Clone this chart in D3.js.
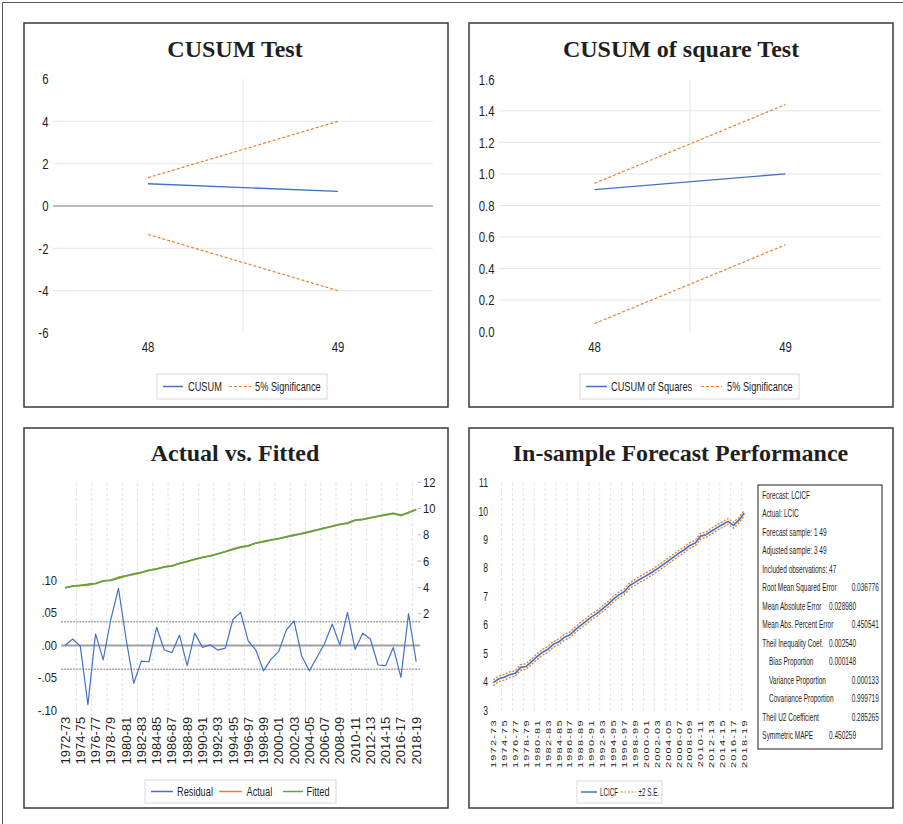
<!DOCTYPE html>
<html><head><meta charset="utf-8">
<script src="https://cdn.jsdelivr.net/npm/d3@7"></script>
<style>body{margin:0;background:#fff}svg{display:block}</style>
</head><body>
<svg id="c" width="903" height="824"></svg>
<script>
// ---------- DATA ----------
const cusumCats = ["48", "49"];
const cusum = [1.05, 0.69];
const cusumUpper = [1.34, 4.0];
const cusumLower = [-1.34, -4.0];
const cusumTicks = [-6, -4, -2, 0, 2, 4, 6];

const cusumsqCats = ["48", "49"];
const cusumsq = [0.90, 1.00];
const cusumsqUpper = [0.94, 1.44];
const cusumsqLower = [0.05, 0.55];
const cusumsqTicks = [0, 0.2, 0.4, 0.6, 0.8, 1.0, 1.2, 1.4, 1.6];

const years = ["1972-73","1973-74","1974-75","1975-76","1976-77","1977-78","1978-79","1979-80","1980-81","1981-82","1982-83","1983-84","1984-85","1985-86","1986-87","1987-88","1988-89","1989-90","1990-91","1991-92","1992-93","1993-94","1994-95","1995-96","1996-97","1997-98","1998-99","1999-00","2000-01","2001-02","2002-03","2003-04","2004-05","2005-06","2006-07","2007-08","2008-09","2009-10","2010-11","2011-12","2012-13","2013-14","2014-15","2015-16","2016-17","2017-18","2018-19"];

const residual = [0.000,0.010,-0.001,-0.091,0.018,-0.022,0.040,0.088,0.010,-0.058,-0.024,-0.025,0.028,-0.007,-0.011,0.016,-0.031,0.019,-0.003,0.001,-0.007,-0.004,0.040,0.051,0.007,-0.007,-0.039,-0.021,-0.009,0.024,0.038,-0.016,-0.039,-0.018,0.003,0.033,0.001,0.051,-0.006,0.019,0.010,-0.030,-0.031,-0.003,-0.049,0.049,-0.025];
const actual = [3.96,4.11,4.15,4.15,4.31,4.48,4.57,4.79,4.89,4.97,5.12,5.29,5.43,5.55,5.63,5.84,5.95,6.15,6.28,6.40,6.55,6.72,6.94,7.10,7.17,7.37,7.46,7.60,7.71,7.86,8.01,8.08,8.20,8.36,8.52,8.67,8.79,8.93,9.11,9.19,9.31,9.39,9.50,9.64,9.45,9.73,9.91];
const fitted = [3.96,4.10,4.15,4.24,4.29,4.50,4.53,4.70,4.88,5.03,5.14,5.31,5.40,5.56,5.64,5.82,5.98,6.13,6.28,6.40,6.56,6.72,6.90,7.05,7.16,7.38,7.50,7.62,7.72,7.84,7.97,8.10,8.24,8.38,8.52,8.64,8.79,8.88,9.12,9.17,9.30,9.42,9.53,9.64,9.50,9.68,9.93];
const residBand = 0.0365;
const residTicks = [-0.10, -0.05, 0, 0.05, 0.10];
const residTickLabels = ["-.10", "-.05", ".00", ".05", ".10"];
const levelTicks = [2, 4, 6, 8, 10, 12];

const lcicf = [3.96,4.10,4.15,4.24,4.29,4.50,4.53,4.70,4.88,5.03,5.14,5.31,5.40,5.56,5.64,5.82,5.98,6.13,6.28,6.40,6.56,6.72,6.90,7.05,7.16,7.38,7.50,7.62,7.72,7.84,7.97,8.10,8.24,8.38,8.52,8.64,8.79,8.88,9.12,9.17,9.30,9.42,9.53,9.64,9.50,9.68,9.93];
const twoSE = 0.10;
const forecastTicks = [3, 4, 5, 6, 7, 8, 9, 10, 11];

const statLabels = ["Forecast: LCICF","Actual: LCIC","Forecast sample: 1 49","Adjusted sample: 3 49","Included observations: 47","Root Mean Squared Error","Mean Absolute Error","Mean Abs. Percent Error","Theil Inequality Coef.","Bias Proportion","Variance Proportion","Covariance Proportion","Theil U2 Coefficient","Symmetric MAPE"];
const statValues = ["","","","","","0.036776","0.028980","0.450541","0.002540","0.000148","0.000133","0.999719","0.285265","0.450259"];
const statIndent = [0,0,0,0,0,0,0,0,0,1,1,1,0,0];
const statValueCol = [0,0,0,0,0,1,0,1,0,0,1,1,1,0];

// ---------- HELPERS ----------
const svg = d3.select("#c");
const SANS = "'Liberation Sans', Arial, sans-serif";
const SERIF = "'Liberation Serif', 'Times New Roman', serif";
const BLUE = "#4472C4", ORANGE = "#ED7D31", GREEN = "#5FA641";
const INK = "#1f1f1f";

function txt(g, x, y, s, o = {}) {
  const t = g.append("text")
    .attr("transform", `translate(${x},${y}) scale(${o.sx || 1},1)` + (o.rot ? ` rotate(${o.rot})` : ""))
    .attr("text-anchor", o.anchor || "start")
    .attr("dy", o.dy == null ? "0.35em" : o.dy)
    .attr("font-family", o.family || SANS)
    .attr("font-size", o.size || 12)
    .attr("fill", o.fill || INK)
    .text(s);
  if (o.weight) t.attr("font-weight", o.weight);
  if (o.ls) t.attr("letter-spacing", o.ls);
  return t;
}
function hline(g, x1, x2, y, stroke, w, dash) {
  const l = g.append("line").attr("x1", x1).attr("x2", x2).attr("y1", y).attr("y2", y)
    .attr("stroke", stroke).attr("stroke-width", w);
  if (dash) l.attr("stroke-dasharray", dash);
  return l;
}
function vline(g, x, y1, y2, stroke, w, dash) {
  const l = g.append("line").attr("x1", x).attr("x2", x).attr("y1", y1).attr("y2", y2)
    .attr("stroke", stroke).attr("stroke-width", w);
  if (dash) l.attr("stroke-dasharray", dash);
  return l;
}
function panel(x, y, w, h) {
  const g = svg.append("g");
  g.append("rect").attr("x", x).attr("y", y).attr("width", w).attr("height", h)
    .attr("fill", "#fff").attr("stroke", "#3a3a3a").attr("stroke-width", 1.5);
  return g;
}
function legend(g, box, items, size, sx) {
  g.append("rect").attr("x", box[0]).attr("y", box[1]).attr("width", box[2] - box[0]).attr("height", box[3] - box[1])
    .attr("fill", "#fff").attr("stroke", "#d9d9d9").attr("stroke-width", 1);
  const cy = (box[1] + box[3]) / 2;
  items.forEach(it => {
    hline(g, it.x1, it.x2, cy, it.color, it.w || 1.5, it.dash);
    txt(g, it.tx, cy, it.label, { size, sx });
  });
}
function drawPath(g, data, x, y, stroke, w, dash) {
  const p = g.append("path").datum(data)
    .attr("d", d3.line().x(d => x(d[0])).y(d => y(d[1])))
    .attr("fill", "none").attr("stroke", stroke).attr("stroke-width", w)
    .attr("stroke-linejoin", "round");
  if (dash) p.attr("stroke-dasharray", dash);
  return p;
}

// outer frame
svg.append("path").attr("d", "M2.5,824 V2.5 H903").attr("fill", "none").attr("stroke", "#555").attr("stroke-width", 1);

// ---------- PANEL 1: CUSUM ----------
{
  const g = panel(24, 23, 424, 384);
  txt(g, 235, 57, "CUSUM Test", { family: SERIF, size: 24, weight: "bold", anchor: "middle", dy: 0 });
  const x = d3.scaleBand().domain(cusumCats).range([53, 433]);
  const cx = c => x(c) + x.bandwidth() / 2;
  const y = d3.scaleLinear().domain([-6, 6]).range([333, 79]);
  cusumTicks.filter(d => d !== 0 && Math.abs(d) !== 6).forEach(d => hline(g, 53, 433, y(d), "#e6e6e6", 1));
  vline(g, x(cusumCats[1]), y(6), y(-6), "#e6e6e6", 1);
  hline(g, 53, 433, y(0), "#a6a6a6", 1.3);
  cusumTicks.forEach(d => txt(g, 48.5, y(d), String(d), { anchor: "end", size: 15, sx: 0.76 }));
  cusumCats.forEach(c => txt(g, cx(c), 347, c, { anchor: "middle", size: 15, sx: 0.76 }));
  const z = (arr) => cusumCats.map((c, i) => [c, arr[i]]);
  drawPath(g, z(cusumUpper), cx, y, ORANGE, 1.2, "3,2");
  drawPath(g, z(cusumLower), cx, y, ORANGE, 1.2, "3,2");
  drawPath(g, z(cusum), cx, y, BLUE, 1.4);
  legend(g, [157, 374, 327, 399], [
    { x1: 163, x2: 183, color: BLUE, tx: 188, label: "CUSUM" },
    { x1: 229, x2: 251, color: ORANGE, dash: "3,2", w: 1.2, tx: 255, label: "5% Significance" }
  ], 12.5, 0.74);
}

// ---------- PANEL 2: CUSUM of squares ----------
{
  const g = panel(469, 23, 424, 384);
  txt(g, 681, 57, "CUSUM of square Test", { family: SERIF, size: 24, weight: "bold", anchor: "middle", dy: 0 });
  const x = d3.scaleBand().domain(cusumsqCats).range([499, 881]);
  const cx = c => x(c) + x.bandwidth() / 2;
  const y = d3.scaleLinear().domain([0, 1.6]).range([331.5, 79.3]);
  cusumsqTicks.filter(d => d > 0 && d < 1.6).forEach(d => hline(g, 499, 881, y(d), "#e6e6e6", 1));
  vline(g, x(cusumsqCats[1]), y(1.6), y(0), "#e6e6e6", 1);
  cusumsqTicks.forEach(d => txt(g, 494.5, y(d), d3.format(".1f")(d), { anchor: "end", size: 15, sx: 0.76 }));
  cusumsqCats.forEach(c => txt(g, cx(c), 347, c, { anchor: "middle", size: 15, sx: 0.76 }));
  const z = (arr) => cusumsqCats.map((c, i) => [c, arr[i]]);
  drawPath(g, z(cusumsqUpper), cx, y, ORANGE, 1.2, "3,2");
  drawPath(g, z(cusumsqLower), cx, y, ORANGE, 1.2, "3,2");
  drawPath(g, z(cusumsq), cx, y, BLUE, 1.4);
  legend(g, [580, 374, 799, 399], [
    { x1: 586, x2: 607, color: BLUE, tx: 611, label: "CUSUM of Squares" },
    { x1: 701, x2: 722, color: ORANGE, dash: "3,2", w: 1.2, tx: 727, label: "5% Significance" }
  ], 12.5, 0.74);
}

// ---------- PANEL 3: Actual vs Fitted ----------
{
  const g = panel(24, 428, 424, 380);
  txt(g, 235, 461, "Actual vs. Fitted", { family: SERIF, size: 24, weight: "bold", anchor: "middle", dy: 0 });
  const x = d3.scaleBand().domain(years).range([61.2, 420]);
  const cx = c => x(c) + x.bandwidth() / 2;
  const yL = d3.scaleLinear().domain([-0.1, 0.1]).range([710.5, 580.5]);
  const yR = d3.scaleLinear().domain([2, 12]).range([613.7, 482.3]);
  years.forEach((yr, i) => { if (i >= 2 && i % 2 === 0) vline(g, x(yr), 483, 715, "#e4e4e4", 1, "3,2"); });
  hline(g, 61.2, 420, yL(0), "#a0a0a0", 2);
  hline(g, 61.2, 420, yL(residBand), "#a6a6a6", 1.5, "2,1");
  hline(g, 61.2, 420, yL(-residBand), "#a6a6a6", 1.5, "2,1");
  residTicks.forEach((d, i) => txt(g, 57, yL(d), residTickLabels[i], { anchor: "end", size: 12.5, sx: 0.9 }));
  levelTicks.forEach(d => {
    hline(g, 418, 421, yR(d), "#b0b0b0", 1);
    txt(g, 423, yR(d), String(d), { size: 12.5, sx: 0.9 });
  });
  years.forEach((yr, i) => { if (i % 2 === 0) txt(g, cx(yr), 716.7, yr, { anchor: "end", size: 13, rot: -90 }); });
  const z = (arr) => years.map((c, i) => [c, arr[i]]);
  drawPath(g, z(actual), cx, yR, ORANGE, 1.4);
  drawPath(g, z(fitted), cx, yR, GREEN, 1.8);
  drawPath(g, z(residual), cx, yL, BLUE, 1.2);
  legend(g, [145, 780, 336, 803], [
    { x1: 151, x2: 173, color: BLUE, tx: 177, label: "Residual" },
    { x1: 219, x2: 242, color: ORANGE, tx: 246.5, label: "Actual" },
    { x1: 283, x2: 303, color: GREEN, tx: 306.5, label: "Fitted" }
  ], 12.5, 0.74);
}

// ---------- PANEL 4: In-sample Forecast ----------
{
  const g = panel(469, 428, 424, 380);
  txt(g, 680.5, 461, "In-sample Forecast Performance", { family: SERIF, size: 24, weight: "bold", anchor: "middle", dy: 0 });
  const x = d3.scaleBand().domain(years).range([490.6, 747.1]);
  const cx = c => x(c) + x.bandwidth() / 2;
  const y = d3.scaleLinear().domain([3, 11]).range([710, 482.7]);
  years.forEach((yr, i) => { if (i >= 2 && i % 2 === 0) vline(g, x(yr), 483, 713, "#e6e6e6", 1, "3,2"); });
  forecastTicks.forEach(d => txt(g, 488, y(d), String(d), { anchor: "end", size: 13, sx: 0.66 }));
  years.forEach((yr, i) => { if (i % 2 === 0) txt(g, cx(yr), 719.3, yr, { anchor: "end", size: 11, sx: 0.7, rot: -90, ls: 1.2 }); });
  const z = (arr, k) => years.map((c, i) => [c, arr[i] + k]);
  drawPath(g, z(lcicf, twoSE), cx, y, ORANGE, 1.3, "2,1.5");
  drawPath(g, z(lcicf, -twoSE), cx, y, ORANGE, 1.3, "2,1.5");
  drawPath(g, z(lcicf, 0), cx, y, BLUE, 1.6);
  legend(g, [577, 781, 662, 803], [
    { x1: 581, x2: 597, color: BLUE, tx: 600, label: "LCICF" },
    { x1: 621, x2: 636, color: ORANGE, dash: "2,1.5", w: 1.2, tx: 638.5, label: "±2 S.E." }
  ], 10.5, 0.6);
  // statistics box
  g.append("rect").attr("x", 758).attr("y", 485).attr("width", 124).attr("height", 264)
    .attr("fill", "#fff").attr("stroke", "#444").attr("stroke-width", 1.2);
  statLabels.forEach((s, i) => {
    const yy = 495 + 18.5 * i;
    txt(g, statIndent[i] ? 769 : 762.3, yy, s, { size: 10, sx: 0.65 });
    if (statValues[i]) txt(g, statValueCol[i] ? 851.7 : 829, yy, statValues[i], { size: 10, sx: 0.65 });
  });
}
</script>
</body></html>
